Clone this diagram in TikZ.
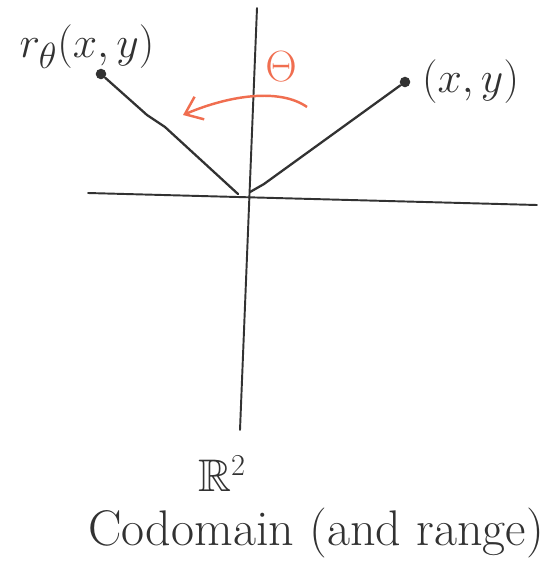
\documentclass[tikz,border=0pt]{standalone}
\usepackage{amsmath}
\usepackage{amssymb}
\usepackage{xcolor}
\usetikzlibrary{arrows.meta,positioning}

\definecolor{sketchorange}{RGB}{240,110,80}
\definecolor{sketchgray}{RGB}{50,50,50}

\begin{document}
\begin{tikzpicture}[x=0.02cm, y=-0.02cm,
    axis/.style={sketchgray, line width=1.1pt, line cap=round},
    ray/.style={sketchgray, line width=1.3pt, line cap=round, line join=round},
    dot/.style={circle, fill=sketchgray, inner sep=0pt, minimum size=6pt},
    label/.style={text=sketchgray, font=\fontsize{24}{28}\selectfont},
    rot/.style={sketchorange, line width=1.4pt, -{Straight Barb[length=9pt, width=14pt]}}
]
\useasboundingbox (0,0) rectangle (559,569);

% Axes
\coordinate (xl) at (88,193);
\coordinate (xr) at (537,205);
\coordinate (yt) at (257,8);
\coordinate (yb) at (240,430);
\draw[axis] (xl) -- (xr);
\draw[axis] (yt) -- (yb);

% Points
\node[dot] (p) at (405,82) {};
\node[dot] (rp) at (101,74) {};
\node[label, right=3pt of p] (plabel) {$(x,y)$};
\node[label, font=\fontsize{28}{32}\selectfont] (rlabel) at (87,47) {$r_\theta(x,y)$};

% Rays
\draw[ray] (250,192) -- (264,184) -- (p);
\draw[ray] (238,194) -- (165,127) -- (147,115) -- (rp);

% Rotation
\coordinate (arcstart) at (307,107);
\coordinate (arcend) at (183,115);
\draw[rot] (arcstart) .. controls (280,88) and (230,95) .. (arcend);
\node[text=sketchorange, font=\fontsize{26}{30}\selectfont] (theta) at (281,67) {$\Theta$};

% Captions
\node[label, font=\fontsize{26}{30}\selectfont] (rtwo) at (222,474) {$\mathbb{R}^2$};
\node[label, font=\fontsize{28.5}{34}\selectfont] (cod) at (316,533) {Codomain (and range)};
\end{tikzpicture}
\end{document}
